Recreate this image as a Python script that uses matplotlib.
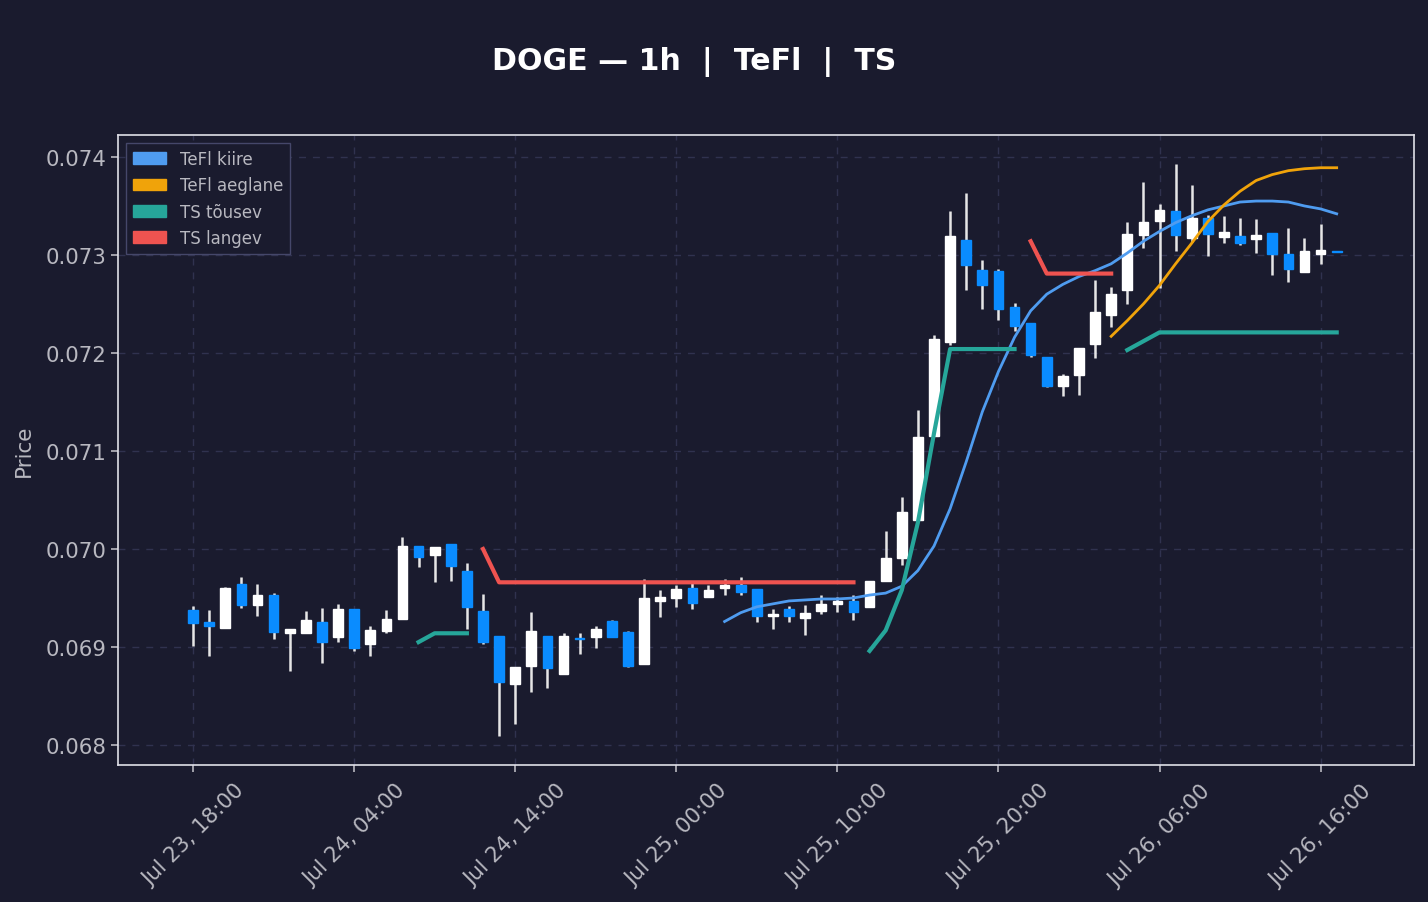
import numpy as np
import pandas as pd
import matplotlib
matplotlib.use("Agg")
import matplotlib.pyplot as plt
import matplotlib.dates as mdates
from matplotlib.patches import Patch

nan = np.nan

# hourly candles, Jul 23 18:00 .. Jul 26 17:00
times = pd.date_range("2025-07-23 18:00", periods=72, freq="h")

opens = [0.06938, 0.06926, 0.06919, 0.06964, 0.06943, 0.06953, 0.06914, 0.06914, 0.06926, 0.06910,
         0.06939, 0.06903, 0.06916, 0.06929, 0.07003, 0.06994, 0.07005, 0.06978, 0.06937, 0.06911,
         0.06862, 0.06881, 0.06911, 0.06872, 0.06909, 0.06910, 0.06927, 0.06915, 0.06883, 0.06947,
         0.06950, 0.06960, 0.06951, 0.06960, 0.06963, 0.06959, 0.06932, 0.06939, 0.06930, 0.06937,
         0.06944, 0.06947, 0.06941, 0.06967, 0.06991, 0.07030, 0.07115, 0.07211, 0.07315, 0.07285,
         0.07284, 0.07247, 0.07231, 0.07196, 0.07166, 0.07178, 0.07209, 0.07239, 0.07264, 0.07320,
         0.07335, 0.07345, 0.07317, 0.07338, 0.07318, 0.07319, 0.07316, 0.07322, 0.07301, 0.07283,
         0.07301, 0.07304]
closes = [0.06924, 0.06921, 0.06960, 0.06943, 0.06953, 0.06915, 0.06918, 0.06928, 0.06905, 0.06939,
          0.06899, 0.06917, 0.06929, 0.07003, 0.06992, 0.07002, 0.06983, 0.06941, 0.06905, 0.06864,
          0.06880, 0.06916, 0.06879, 0.06911, 0.06908, 0.06918, 0.06910, 0.06881, 0.06950, 0.06951,
          0.06959, 0.06945, 0.06958, 0.06963, 0.06956, 0.06932, 0.06934, 0.06932, 0.06935, 0.06944,
          0.06947, 0.06936, 0.06967, 0.06991, 0.07038, 0.07114, 0.07214, 0.07319, 0.07290, 0.07269,
          0.07245, 0.07228, 0.07198, 0.07166, 0.07176, 0.07205, 0.07242, 0.07260, 0.07321, 0.07334,
          0.07346, 0.07320, 0.07338, 0.07321, 0.07323, 0.07312, 0.07320, 0.07301, 0.07286, 0.07304,
          0.07305, 0.07303]
highs = [0.06942, 0.06938, 0.06961, 0.06971, 0.06964, 0.06955, 0.06918, 0.06937, 0.06940, 0.06944,
         0.06939, 0.06921, 0.06938, 0.07012, 0.07003, 0.07002, 0.07005, 0.06986, 0.06954, 0.06911,
         0.06880, 0.06936, 0.06911, 0.06914, 0.06914, 0.06921, 0.06928, 0.06916, 0.06969, 0.06958,
         0.06963, 0.06967, 0.06963, 0.06969, 0.06971, 0.06959, 0.06939, 0.06942, 0.06943, 0.06953,
         0.06951, 0.06953, 0.06967, 0.07018, 0.07053, 0.07142, 0.07218, 0.07345, 0.07363, 0.07295,
         0.07286, 0.07251, 0.07231, 0.07196, 0.07179, 0.07205, 0.07274, 0.07267, 0.07334, 0.07374,
         0.07352, 0.07393, 0.07371, 0.07341, 0.07340, 0.07338, 0.07337, 0.07322, 0.07328, 0.07317,
         0.07332, 0.07304]
lows = [0.06901, 0.06891, 0.06919, 0.06940, 0.06932, 0.06908, 0.06875, 0.06914, 0.06884, 0.06905,
        0.06896, 0.06891, 0.06914, 0.06929, 0.06982, 0.06966, 0.06967, 0.06918, 0.06903, 0.06809,
        0.06821, 0.06854, 0.06858, 0.06872, 0.06893, 0.06899, 0.06910, 0.06880, 0.06883, 0.06931,
        0.06941, 0.06939, 0.06951, 0.06953, 0.06953, 0.06926, 0.06918, 0.06925, 0.06912, 0.06934,
        0.06936, 0.06928, 0.06941, 0.06967, 0.06984, 0.07030, 0.07115, 0.07208, 0.07264, 0.07245,
        0.07234, 0.07222, 0.07196, 0.07165, 0.07156, 0.07157, 0.07195, 0.07227, 0.07250, 0.07307,
        0.07266, 0.07304, 0.07313, 0.07299, 0.07312, 0.07310, 0.07302, 0.07280, 0.07272, 0.07283,
        0.07291, 0.07303]

# TeFl fast line (starts at candle 33)
tefl_kiire = [nan] * 33 + [
    0.06926, 0.06935, 0.06941, 0.06944, 0.06947, 0.06948, 0.06949, 0.06949, 0.06950, 0.06953,
    0.06955, 0.06962, 0.06978, 0.07003, 0.07041, 0.07089, 0.07140, 0.07181, 0.07216, 0.07243,
    0.07260, 0.07270, 0.07278, 0.07284, 0.07291, 0.07302, 0.07314, 0.07324, 0.07333, 0.07340,
    0.07346, 0.07350, 0.07354, 0.07355, 0.07355, 0.07354, 0.07350, 0.07347, 0.07342]
# TeFl slow line (starts at candle 57)
tefl_aeglane = [nan] * 57 + [
    0.07217, 0.07233, 0.07250, 0.07269, 0.07291, 0.07312, 0.07334, 0.07351, 0.07365, 0.07376,
    0.07382, 0.07386, 0.07388, 0.07389, 0.07389]
# TS rising / falling stops
ts_tousev = ([nan] * 14 + [0.06905, 0.06914, 0.06914, 0.06914] + [nan] * 24
             + [0.06896, 0.06917, 0.06958, 0.07027, 0.07118, 0.07204, 0.07204, 0.07204, 0.07204, 0.07204]
             + [nan] * 6
             + [0.07203, 0.07212] + [0.07221] * 12)
ts_langev = ([nan] * 18 + [0.07000] + [0.06966] * 23 + [nan] * 10
             + [0.07314] + [0.07281] * 5 + [nan] * 14)

BG = "#1a1b2e"
UP = "#ffffff"
DOWN = "#0a8cff"
C_KIIRE = "#4f9cf0"
C_AEGL = "#f0a30a"
C_UPTS = "#26a69a"
C_DNTS = "#ef5350"
TXT = "#b8b8c0"

fig = plt.figure(figsize=(14.28, 9.03), dpi=100, facecolor=BG)
ax = fig.add_axes([118 / 1428, 1 - 766 / 903, (1414 - 118) / 1428, (766 - 136) / 903])
ax.set_facecolor(BG)

x = mdates.date2num(times)
w = 0.6 / 24
for xi, o, c, h, l in zip(x, opens, closes, highs, lows):
    col = UP if c >= o else DOWN
    ax.vlines(xi, l, h, color="#e6e6e6", linewidth=1.8, zorder=2)
    bot = min(o, c)
    hgt = max(abs(c - o), 0.000012)
    ax.bar(xi, hgt, bottom=bot, width=w, color=col, edgecolor=col, linewidth=1, zorder=3)

ax.plot(x, tefl_kiire, color=C_KIIRE, linewidth=2, zorder=4)
ax.plot(x, tefl_aeglane, color=C_AEGL, linewidth=2, zorder=4)
ax.plot(x, ts_tousev, color=C_UPTS, linewidth=3, zorder=4)
ax.plot(x, ts_langev, color=C_DNTS, linewidth=3, zorder=4)

ax.set_xlim(x[0] - 4.66 / 24, x[0] + 75.8 / 24)
ax.set_ylim(0.067796, 0.074224)
ax.set_yticks([0.068, 0.069, 0.070, 0.071, 0.072, 0.073, 0.074])
ax.yaxis.set_major_formatter(matplotlib.ticker.FormatStrFormatter("%.3f"))

ticks = pd.date_range("2025-07-23 18:00", periods=8, freq="10h")
ax.set_xticks(mdates.date2num(ticks))
ax.set_xticklabels([t.strftime("%b %d, %H:%M") for t in ticks], rotation=45)

ax.tick_params(colors=TXT, labelsize=15.3, length=5, width=1.2)
ax.tick_params(axis="x", pad=6)
for s in ax.spines.values():
    s.set_color("#e0e0e8")
    s.set_linewidth(1.2)
ax.grid(True, color="#30324f", linestyle=(0, (5, 5)), linewidth=1)
ax.set_axisbelow(True)
ax.set_ylabel("Price", color=TXT, fontsize=15.5, labelpad=8)

handles = [Patch(color=C_KIIRE, label="TeFl kiire"),
           Patch(color=C_AEGL, label="TeFl aeglane"),
           Patch(color=C_UPTS, label="TS tõusev"),
           Patch(color=C_DNTS, label="TS langev")]
leg = ax.legend(handles=handles, loc="upper left", fontsize=12, facecolor=BG,
                edgecolor="#45476a", labelcolor=TXT, framealpha=1, fancybox=False)

fig.text(694 / 1428, 1 - 62 / 903, "DOGE — 1h  |  TeFl  |  TS", color="white",
         fontsize=21.6, fontweight="bold", ha="center", va="center")

fig.savefig("out.png", dpi=100, facecolor=BG)
